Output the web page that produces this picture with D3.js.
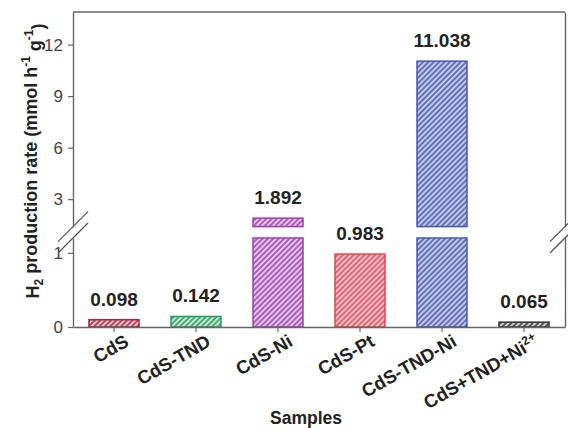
<!DOCTYPE html>
<html>
<head>
<meta charset="utf-8">
<script src="https://cdn.jsdelivr.net/npm/d3@7/dist/d3.min.js"></script>
<style>
  body { margin: 0; background: #fff; }
  svg { display: block; font-family: Arial, "Liberation Sans", sans-serif; }
</style>
</head>
<body>
<svg id="chart" width="568" height="428"></svg>
<script>
const samples = ["CdS", "CdS-TND", "CdS-Ni", "CdS-Pt", "CdS-TND-Ni", "CdS+TND+Ni2+"];
const rates = [0.098, 0.142, 1.892, 0.983, 11.038, 0.065];
const strokeColors = ["#a3283e", "#2b9a5c", "#9e3fae", "#e8424e", "#4a58ae", "#333333"];
const fillColors = ["#e9c3cb", "#c2e6d0", "#e2c6ea", "#f7c6ca", "#c3c9e7", "#cfcfcf"];
const lowTicks = [0, 1];
const highTicks = [3, 6, 9, 12];
const lowDomain = [0, 1.2];
const highDomain = [1.4, 13.9];

const W = 568, H = 428;
const m = { left: 73, right: 3, top: 12, bottom: 101 };
const x0 = m.left, x1 = W - m.right;
const yBottom = H - m.bottom, yTop = m.top;
const lowTop = 238, highBottom = 226.6;

const svg = d3.select("#chart");

const x = d3.scaleBand().domain(samples).range([x0, x1]).paddingInner(0.39).paddingOuter(0.195);
const yLow = d3.scaleLinear().domain(lowDomain).range([yBottom, lowTop]);
const yHigh = d3.scaleLinear().domain(highDomain).range([highBottom, yTop]);
const yPos = v => v <= lowDomain[1] ? yLow(v) : yHigh(v);

// hatch patterns
const defs = svg.append("defs");
samples.forEach((s, i) => {
  const p = defs.append("pattern")
    .attr("id", "hatch" + i)
    .attr("patternUnits", "userSpaceOnUse")
    .attr("width", 3.8).attr("height", 10)
    .attr("patternTransform", "rotate(45)");
  p.append("rect").attr("width", 3.8).attr("height", 10).attr("fill", fillColors[i]);
  p.append("line").attr("x1", 1).attr("x2", 1).attr("y1", 0).attr("y2", 10)
    .attr("stroke", strokeColors[i]).attr("stroke-width", 1.5);
});

// bars (split where the axis is broken)
const segs = [];
rates.forEach((v, i) => {
  const s = samples[i];
  if (v <= lowDomain[1]) {
    segs.push({ s, i, y0: yLow(0), y1: yLow(v) });
  } else {
    segs.push({ s, i, y0: yLow(0), y1: yLow(lowDomain[1]) });
    segs.push({ s, i, y0: yHigh(highDomain[0]), y1: yHigh(v) });
  }
});
svg.append("g").selectAll("rect").data(segs).join("rect")
  .attr("x", d => x(d.s))
  .attr("width", x.bandwidth())
  .attr("y", d => d.y1)
  .attr("height", d => d.y0 - d.y1)
  .attr("fill", d => `url(#hatch${d.i})`)
  .attr("stroke", d => strokeColors[d.i])
  .attr("stroke-width", 1.5);

// value labels
svg.append("g").selectAll("text").data(rates).join("text")
  .attr("x", (d, i) => x(samples[i]) + x.bandwidth() / 2)
  .attr("y", d => yPos(d) - 14)
  .attr("text-anchor", "middle")
  .style("font-size", "19px").style("font-weight", "bold").style("fill", "#222")
  .text(d => d.toFixed(3));

const axisColor = "#666";
const styleAxis = ax => {
  ax.select(".domain").attr("stroke", axisColor).attr("stroke-width", 1.4);
  ax.selectAll(".tick line").attr("stroke", axisColor).attr("stroke-width", 1.2);
  ax.selectAll(".tick text").style("font-size", "17px").style("fill", "#444")
    .style("font-family", "Arial, 'Liberation Sans', sans-serif");
};

// left axes
svg.append("g").attr("transform", `translate(${x0},0)`)
  .call(d3.axisLeft(yLow).tickValues(lowTicks).tickFormat(d3.format("d")).tickSize(5).tickSizeOuter(0).tickPadding(5))
  .call(styleAxis);
svg.append("g").attr("transform", `translate(${x0},0)`)
  .call(d3.axisLeft(yHigh).tickValues(highTicks).tickFormat(d3.format("d")).tickSize(5).tickSizeOuter(0).tickPadding(5))
  .call(styleAxis);

// right frame & top
svg.append("g").attr("transform", `translate(${x1},0)`)
  .call(d3.axisRight(yLow).tickValues([]).tickSizeOuter(0)).call(styleAxis);
svg.append("g").attr("transform", `translate(${x1},0)`)
  .call(d3.axisRight(yHigh).tickValues([]).tickSizeOuter(0)).call(styleAxis);
svg.append("line").attr("x1", x0).attr("x2", x1).attr("y1", yTop).attr("y2", yTop)
  .attr("stroke", axisColor).attr("stroke-width", 1.4);

// break marks
const brk = [highBottom, lowTop];
[x0, x1].forEach(bx => {
  brk.forEach(by => {
    svg.append("line")
      .attr("x1", bx - 15).attr("y1", by + 15)
      .attr("x2", bx + 15).attr("y2", by - 15)
      .attr("stroke", "#555").attr("stroke-width", 1.3);
  });
});

// bottom axis
svg.append("g").attr("transform", `translate(0,${yBottom})`)
  .call(d3.axisBottom(x).tickSize(5).tickSizeOuter(0).tickFormat(""))
  .call(styleAxis);

const xl = svg.append("g").selectAll("text").data(samples).join("text")
  .attr("transform", d => `translate(${x(d) + x.bandwidth() / 2 + 9},${yBottom + 6}) rotate(-30)`)
  .attr("text-anchor", "end")
  .attr("dy", "0.75em")
  .style("font-size", "18.5px").style("font-weight", "bold").style("fill", "#222");
xl.each(function (d) {
  const t = d3.select(this);
  if (d.endsWith("2+")) {
    t.append("tspan").text(d.slice(0, -2));
    t.append("tspan").attr("dy", "-0.6em").style("font-size", "12px").text("2+");
  } else {
    t.text(d);
  }
});

// axis titles
svg.append("text")
  .attr("x", 306).attr("y", 424)
  .attr("text-anchor", "middle")
  .style("font-size", "17.5px").style("font-weight", "bold").style("fill", "#222")
  .text("Samples");

const yt = svg.append("text")
  .attr("transform", `translate(39,161) rotate(-90)`)
  .attr("text-anchor", "middle")
  .style("font-size", "18px").style("font-weight", "bold").style("fill", "#222");
yt.append("tspan").text("H");
yt.append("tspan").attr("dy", "0.35em").style("font-size", "12px").text("2");
yt.append("tspan").attr("dy", "-0.35em").text(" production rate (mmol h");
yt.append("tspan").attr("dy", "-0.6em").style("font-size", "12px").text("-1");
yt.append("tspan").attr("dy", "0.6em").text(" g");
yt.append("tspan").attr("dy", "-0.6em").style("font-size", "12px").text("-1");
yt.append("tspan").attr("dy", "0.6em").text(")");
</script>
</body>
</html>
